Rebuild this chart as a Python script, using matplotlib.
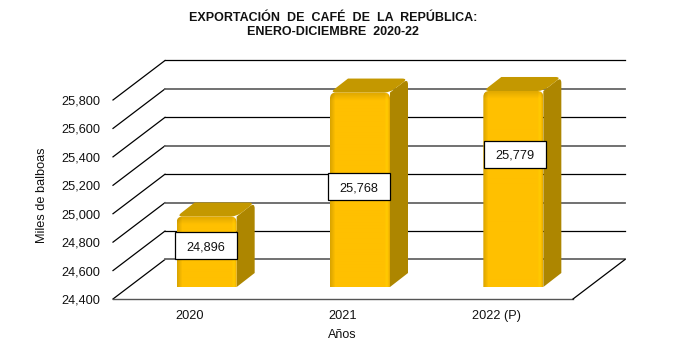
import matplotlib
matplotlib.use("Agg")
import matplotlib.pyplot as plt
import numpy as np
from matplotlib.patches import PathPatch, Rectangle
from matplotlib.path import Path

plt.rcParams["font.family"] = ["Liberation Sans", "DejaVu Sans"]

# data
years = ["2020", "2021", "2022 (P)"]
values = [24896, 25768, 25779]
y_ticks = [24400, 24600, 24800, 25000, 25200, 25400, 25600, 25800]

W, H = 683, 360
FLOOR = 24400

fig = plt.figure(figsize=(W / 100, H / 100), dpi=100, facecolor="white")
ax = fig.add_axes([113 / W, 1 - 299 / H, 460 / W, 199 / H])
ax.set_facecolor("none")
for s in ax.spines.values():
    s.set_visible(False)

# px -> data units
ux = 3 / 460
uy = 1400 / 199

# 3d look
depth_x, depth_y = 52 * ux, 39.5 * uy
bar_dx, bar_dy = 17 * ux, 12 * uy
side_x, side_y = 18 * ux, 14 * uy
bar_w = 60 * ux


def rounded_path(pts, radius_px):
    """Closed path, (point, rounded?) corners smoothed with a quad curve."""
    verts, codes = [], []
    n = len(pts)
    for i, (p, rnd) in enumerate(pts):
        p = np.array(p, dtype=float)
        if not rnd:
            verts.append(p)
            codes.append(Path.MOVETO if i == 0 else Path.LINETO)
            continue
        prev = np.array(pts[i - 1][0], dtype=float)
        nxt = np.array(pts[(i + 1) % n][0], dtype=float)
        # work in pixels so the corner stays round
        scale = np.array([ux, uy])
        a = (prev - p) / scale
        b = (nxt - p) / scale
        p1 = p + a / np.hypot(*a) * radius_px * scale
        p2 = p + b / np.hypot(*b) * radius_px * scale
        verts += [p1, p, p2]
        codes += [Path.MOVETO if i == 0 else Path.LINETO, Path.CURVE3, Path.CURVE3]
    verts.append(verts[0])
    codes.append(Path.CLOSEPOLY)
    return Path(verts, codes)


# grid: back wall + left wall
x0, x1 = -0.5, 2.5
for i, t in enumerate(y_ticks):
    gray = i % 2 == 0
    ax.plot([x0, x0 + depth_x], [t, t + depth_y], color="black", lw=0.9, clip_on=False, zorder=1)
    ax.plot([x0 + depth_x, x1 + depth_x], [t + depth_y, t + depth_y],
            color="#666666" if gray else "black", lw=1.3 if gray else 0.9,
            clip_on=False, zorder=1)

# floor
ax.plot([x0, x1], [FLOOR, FLOOR], color="#555555", lw=1.0, clip_on=False, zorder=1)
ax.plot([x1, x1 + depth_x], [FLOOR, FLOOR + depth_y], color="black", lw=0.9, clip_on=False, zorder=1)

# front face shading
u = np.linspace(0, 1, 60)
v = np.linspace(0, 1, 200)
base_col = np.array([255, 192, 0]) / 255
for i, val in enumerate(values):
    left = i + bar_dx - bar_w / 2
    right = left + bar_w
    bottom = FLOOR + bar_dy
    top = bottom + (val - FLOOR)

    # side
    side = rounded_path([((right, bottom), False), ((right + side_x, bottom + side_y), False),
                         ((right + side_x, top + side_y), True), ((right, top), False)], 6)
    ax.add_patch(PathPatch(side, fc="#AD8600", ec="none", clip_on=False, zorder=2))
    # top
    lid = rounded_path([((left, top), True), ((left + side_x, top + side_y), False),
                        ((right + side_x, top + side_y), True), ((right, top), True)], 6)
    ax.add_patch(PathPatch(lid, fc="#C49800", ec="none", clip_on=False, zorder=2))

    # front
    front = rounded_path([((left, bottom), False), ((left, top), True),
                          ((right, top), True), ((right, bottom), False)], 6)
    hpx = (top - bottom) / uy
    shade_x = np.interp(u * 60, [0, 1.5, 5, 55, 57.5, 60], [0.86, 0.9, 1.0, 1.0, 1.06, 0.92])
    shade_y = np.interp((1 - v) * hpx, [0, 2, 8, hpx], [0.88, 0.9, 1.0, 1.0])
    shade = np.outer(shade_y, shade_x)
    img = np.clip(shade[..., None] * base_col, 0, 1)
    im = ax.imshow(img, extent=(left, right, bottom, top), origin="lower", aspect="auto",
                   interpolation="bilinear", zorder=3)
    im.set_clip_box(fig.bbox)
    im.set_clip_path(PathPatch(front, transform=ax.transData))

ax.set_xlim(x0, x1)
ax.set_ylim(FLOOR, 25800)
ax.set_xticks(range(len(years)), years)
ax.set_yticks(y_ticks, [f"{t:,}" for t in y_ticks])
ax.tick_params(length=0, labelsize=9.2, colors="#111111")
ax.tick_params(axis="y", pad=9)
ax.tick_params(axis="x", pad=8)

# data labels, boxes placed by hand like the original
label_boxes = [(175, 232), (328, 173), (484, 141)]
for val, (bx, by) in zip(values, label_boxes):
    fig.add_artist(Rectangle((bx / W, 1 - (by + 27) / H), 62 / W, 27 / H, transform=fig.transFigure,
                             fc="white", ec="black", lw=0.9, zorder=5))
    fig.text((bx + 31) / W, 1 - (by + 13.5) / H, f"{val:,}", ha="center", va="center_baseline",
             fontsize=9.2, color="#111111", zorder=6)

fig.text(342 / W, 1 - 335 / H, "Años", ha="center", va="center", fontsize=9, color="#111111")
fig.text(42 / W, 1 - 195 / H, "Miles de balboas", rotation=90, ha="center", va="center",
         fontsize=9.2, color="#111111")
fig.text(333 / W, 1 - 25 / H, "EXPORTACIÓN  DE  CAFÉ  DE  LA  REPÚBLICA:\nENERO-DICIEMBRE  2020-22",
         ha="center", va="center", fontsize=9, fontweight="bold", linespacing=1.2, color="#111111")

fig.savefig("out.png", dpi=100)
